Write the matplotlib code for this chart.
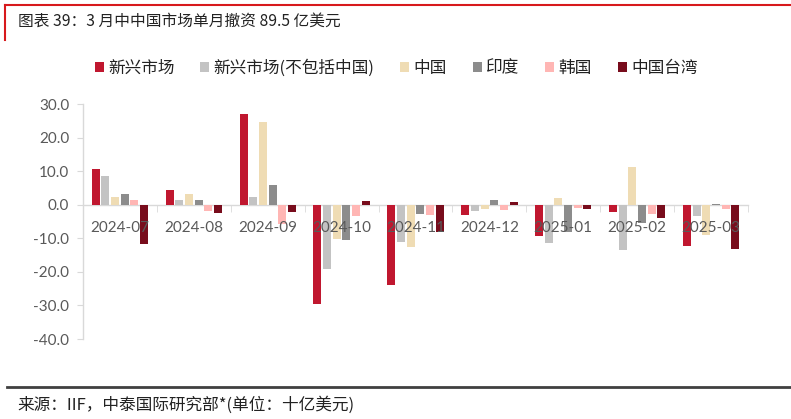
import matplotlib
matplotlib.use("Agg")
import matplotlib.pyplot as plt
import numpy as np
from matplotlib.patches import Patch
from matplotlib.lines import Line2D

plt.rcParams['font.family'] = ['Noto Sans CJK SC', 'DejaVu Sans']

categories = ["2024-07", "2024-08", "2024-09", "2024-10", "2024-11", "2024-12",
              "2025-01", "2025-02", "2025-03"]
em_total = [10.7, 4.5, 27.0, -29.6, -23.8, -3.2, -9.3, -2.2, -12.3]
em_ex_china = [8.5, 1.4, 2.4, -19.2, -11.2, -1.8, -11.4, -13.5, -3.4]
china = [2.2, 3.2, 24.7, -10.3, -12.6, -1.2, 2.0, 11.3, -8.9]
india = [3.3, 1.4, 6.0, -10.4, -2.7, 1.3, -8.2, -5.3, 0.3]
korea = [1.3, -2.0, -5.7, -3.4, -3.2, -1.6, -1.0, -2.8, -1.4]
taiwan = [-11.6, -2.6, -2.3, 1.1, -8.0, 0.7, -1.2, -3.9, -13.2]

series_names = ["新兴市场", "新兴市场(不包括中国)", "中国", "印度", "韩国", "中国台湾"]
series_vals = [em_total, em_ex_china, china, india, korea, taiwan]
colors = ["#C0172F", "#C3C3C3", "#EFDCB4", "#8C8C8C", "#FFB6B4", "#780C1C"]

W, H = 791, 419
fig = plt.figure(figsize=(W / 100, H / 100), dpi=100)
ax = fig.add_axes([83 / W, 1 - 339 / H, (748 - 83) / W, (339 - 104) / H])

x = np.arange(len(categories))
step = 0.131
bw = 0.108
for i, (vals, c) in enumerate(zip(series_vals, colors)):
    ax.bar(x + (i - 2.5) * step, vals, width=bw, color=c, zorder=2)

ax.set_xlim(-0.5, len(categories) - 0.5)
ax.set_ylim(-40, 30)
ax.set_yticks(np.arange(-40, 31, 10))
ax.set_yticklabels([f"{v:.1f}" for v in np.arange(-40, 31, 10)],
                   fontsize=11, color="#595959", family=['Lato', 'DejaVu Sans'])

for s in ['top', 'right']:
    ax.spines[s].set_visible(False)
ax.spines['left'].set_color('#D9D9D9')
ax.spines['bottom'].set_color('#D9D9D9')
ax.spines['bottom'].set_position(('data', 0))
ax.spines['left'].set_linewidth(1.0)
ax.spines['bottom'].set_linewidth(1.0)
ax.spines['bottom'].set_zorder(1.5)
ax.tick_params(axis='y', length=4, color='#D9D9D9', pad=6)

ax.set_xticks(x)
ax.set_xticklabels(categories, fontsize=11, color="#595959", family=['Lato', 'DejaVu Sans'])
ax.tick_params(axis='x', which='major', length=0, pad=12)
ax.set_xticks(np.arange(0.5, len(categories), 1.0), minor=True)
ax.tick_params(axis='x', which='minor', length=5, color='#D9D9D9', direction='out')
ax.xaxis.set_zorder(3)

handles = [Patch(facecolor=c, edgecolor='none') for c in colors]
fig.legend(handles, series_names, loc='center', bbox_to_anchor=(396 / W, 1 - 68 / H),
           ncol=6, frameon=False, fontsize=12, handlelength=0.55, handleheight=0.55,
           handletextpad=0.25, columnspacing=1.55, labelcolor='#222222')

fig.text(18 / W, 1 - 21 / H, "图表 39：3 月中中国市场单月撤资 89.5 亿美元",
         fontsize=11.3, va='center', ha='left', color='#222222')
fig.add_artist(Line2D([5 / W, 1.0], [1 - 5 / H, 1 - 5 / H], color='#D7191C', lw=1.5))
fig.add_artist(Line2D([5 / W, 5 / W], [1 - 5 / H, 1 - 40 / H], color='#D7191C', lw=1.5))

fig.add_artist(Line2D([7 / W, 1.0], [1 - 387 / H, 1 - 387 / H], color='#404040', lw=2))
fig.text(17 / W, 1 - 405 / H, "来源：IIF，中泰国际研究部*(单位：十亿美元)",
         fontsize=12, va='center', ha='left', color='#222222')

fig.savefig("out.png", dpi=100)
